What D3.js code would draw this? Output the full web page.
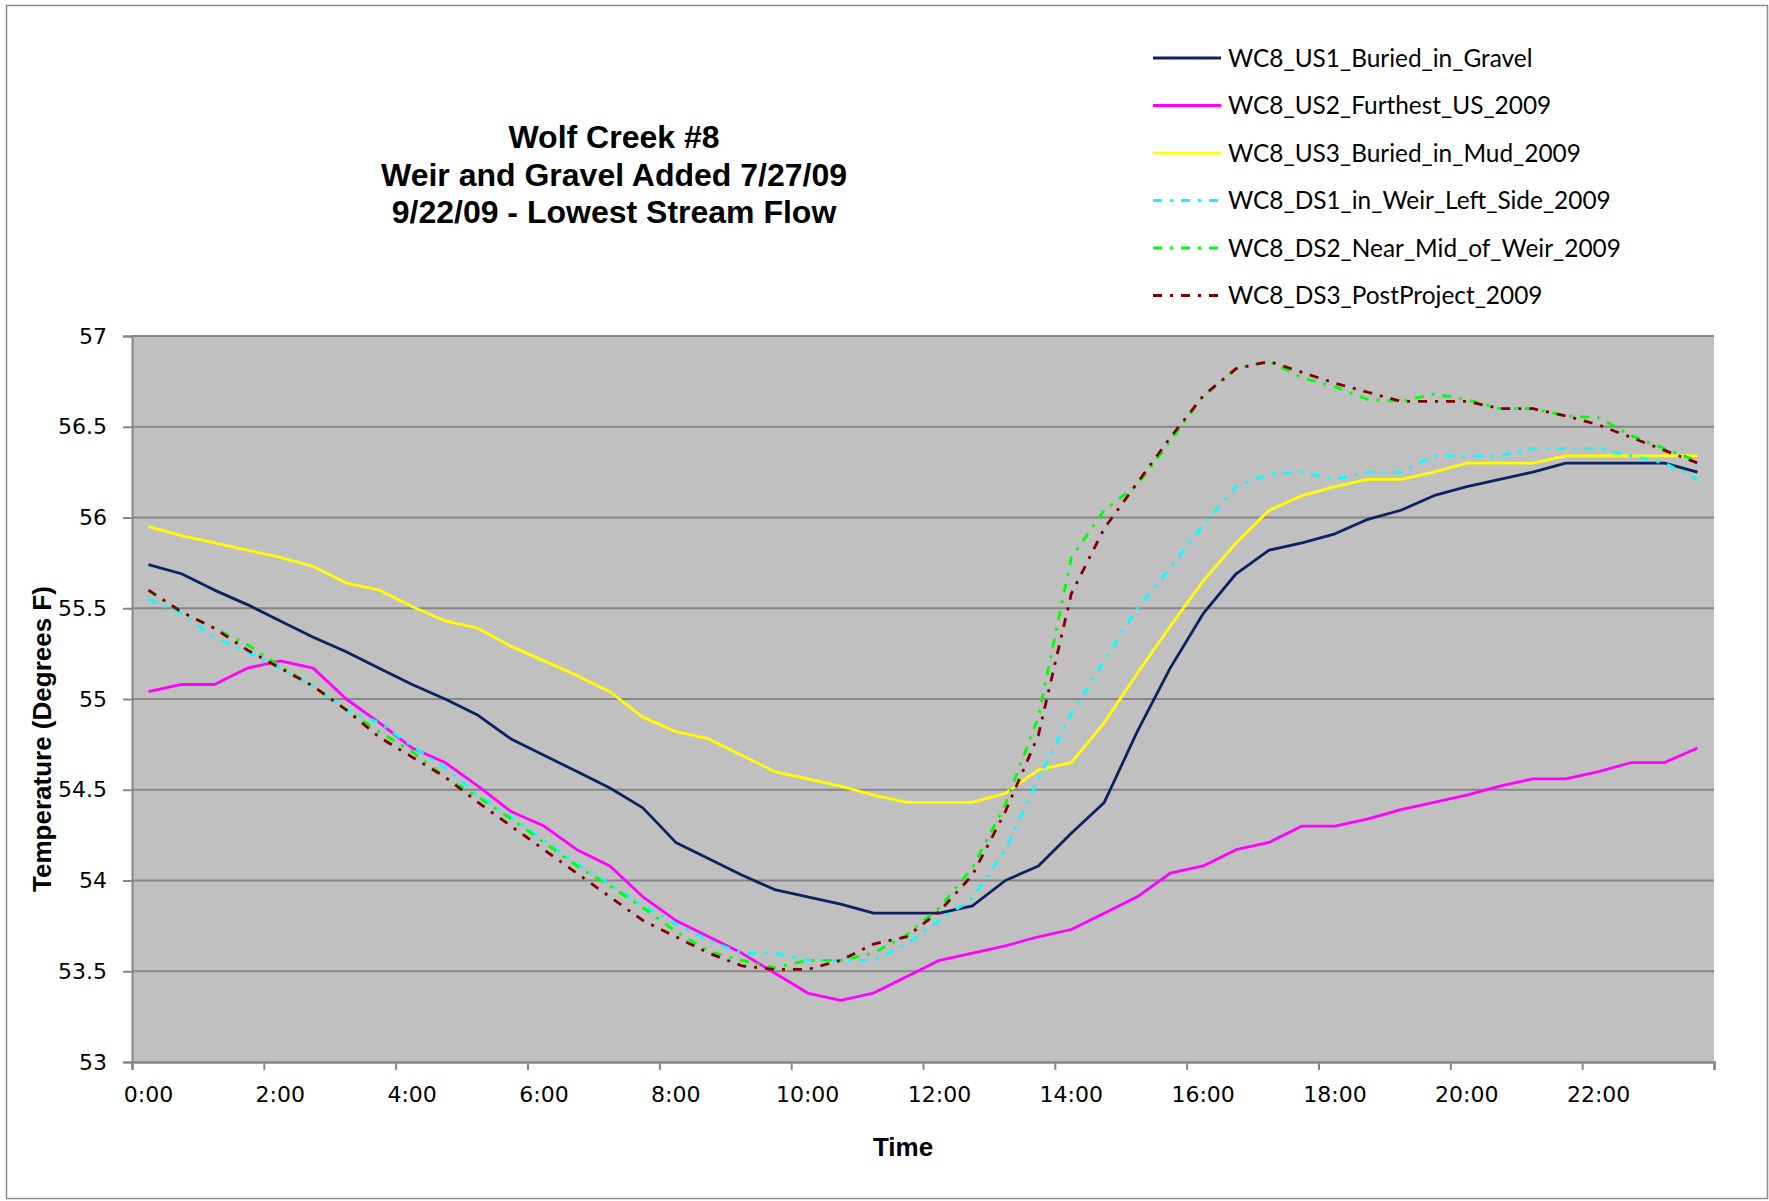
<!DOCTYPE html>
<html>
<head>
<meta charset="utf-8">
<script src="https://cdn.jsdelivr.net/npm/d3@7"></script>
<style>
  html, body { margin: 0; padding: 0; background: #ffffff; }
  svg { display: block; }
</style>
</head>
<body>
<svg id="chart" width="1769" height="1201"></svg>
<script>
// Half-hourly categories for one day
const times = [
  "0:00","0:30","1:00","1:30","2:00","2:30","3:00","3:30","4:00","4:30","5:00","5:30",
  "6:00","6:30","7:00","7:30","8:00","8:30","9:00","9:30","10:00","10:30","11:00","11:30",
  "12:00","12:30","13:00","13:30","14:00","14:30","15:00","15:30","16:00","16:30","17:00","17:30",
  "18:00","18:30","19:00","19:30","20:00","20:30","21:00","21:30","22:00","22:30","23:00","23:30"
];

// Axis tick labels
const xTickLabels = ["0:00","2:00","4:00","6:00","8:00","10:00","12:00","14:00","16:00","18:00","20:00","22:00"];
const yTickValues = [53, 53.5, 54, 54.5, 55, 55.5, 56, 56.5, 57];

// Series names
const seriesNames = [
  "WC8_US1_Buried_in_Gravel",
  "WC8_US2_Furthest_US_2009",
  "WC8_US3_Buried_in_Mud_2009",
  "WC8_DS1_in_Weir_Left_Side_2009",
  "WC8_DS2_Near_Mid_of_Weir_2009",
  "WC8_DS3_PostProject_2009"
];

// Temperatures (degrees F), one value per half hour
const us1 = [55.74,55.69,55.60,55.52,55.43,55.34,55.26,55.17,55.08,55.00,54.91,54.78,
             54.69,54.60,54.51,54.40,54.21,54.12,54.03,53.95,53.91,53.87,53.82,53.82,
             53.82,53.86,54.00,54.08,54.26,54.43,54.82,55.17,55.47,55.69,55.82,55.86,
             55.91,55.99,56.04,56.12,56.17,56.21,56.25,56.30,56.30,56.30,56.30,56.25];
const us2 = [55.04,55.08,55.08,55.17,55.21,55.17,55.00,54.87,54.73,54.65,54.52,54.38,
             54.30,54.17,54.08,53.91,53.78,53.69,53.60,53.49,53.38,53.34,53.38,53.47,
             53.56,53.60,53.64,53.69,53.73,53.82,53.91,54.04,54.08,54.17,54.21,54.30,
             54.30,54.34,54.39,54.43,54.47,54.52,54.56,54.56,54.60,54.65,54.65,54.73];
const us3 = [55.95,55.90,55.86,55.82,55.78,55.73,55.64,55.60,55.51,55.43,55.39,55.29,
             55.21,55.13,55.04,54.90,54.82,54.78,54.69,54.60,54.56,54.52,54.47,54.43,
             54.43,54.43,54.48,54.61,54.65,54.87,55.14,55.40,55.65,55.86,56.04,56.12,
             56.17,56.21,56.21,56.25,56.30,56.30,56.30,56.34,56.34,56.34,56.34,56.34];
const ds1 = [55.55,55.47,55.34,55.26,55.17,55.07,54.94,54.87,54.74,54.62,54.47,54.35,
             54.22,54.09,53.98,53.86,53.76,53.67,53.60,53.60,53.56,53.56,53.56,53.65,
             53.78,53.90,54.17,54.56,54.92,55.21,55.50,55.72,55.96,56.17,56.24,56.25,
             56.21,56.25,56.25,56.34,56.34,56.34,56.38,56.38,56.38,56.34,56.30,56.21];
const ds2 = [55.60,55.48,55.39,55.30,55.18,55.07,54.94,54.82,54.71,54.57,54.46,54.34,
             54.21,54.08,53.97,53.85,53.72,53.61,53.56,53.52,53.56,53.56,53.60,53.70,
             53.85,54.07,54.42,54.90,55.78,56.04,56.18,56.42,56.67,56.82,56.86,56.77,
             56.72,56.65,56.64,56.68,56.65,56.60,56.60,56.56,56.55,56.45,56.38,56.31];
const ds3 = [55.60,55.48,55.39,55.27,55.17,55.07,54.94,54.79,54.68,54.57,54.43,54.30,
             54.17,54.04,53.91,53.78,53.69,53.60,53.53,53.51,53.51,53.56,53.65,53.69,
             53.83,54.03,54.38,54.80,55.58,55.94,56.19,56.44,56.67,56.82,56.86,56.80,
             56.74,56.69,56.64,56.64,56.64,56.60,56.60,56.56,56.51,56.44,56.37,56.30];

const seriesValues = [us1, us2, us3, ds1, ds2, ds3];
const seriesColors = ["#0D2160", "#FF00FF", "#FFFF00", "#00FFFF", "#00FF00", "#800000"];
const dashDot = "9,8,3,8";
const seriesDash = [null, null, null, dashDot, dashDot, dashDot];

// Layout
const W = 1769, H = 1201;
const plot = { left: 132, right: 1714, top: 336, bottom: 1062 };
const gridColor = "#868686";

const svg = d3.select("#chart");

// Outer chart frame
svg.append("rect")
  .attr("x", 6.5).attr("y", 5.5)
  .attr("width", 1761).attr("height", 1193)
  .attr("fill", "#ffffff")
  .attr("stroke", "#8c8c8c").attr("stroke-width", 1.5);

// Scales
const x = d3.scaleBand().domain(times).range([plot.left, plot.right]).paddingInner(0).paddingOuter(0);
const xIdx = d3.scaleLinear().domain([0, times.length]).range([plot.left, plot.right]);
const y = d3.scaleLinear().domain([53, 57]).range([plot.bottom, plot.top]);
const cx = t => x(t) + x.bandwidth() / 2;

// Plot area
svg.append("rect")
  .attr("x", plot.left).attr("y", plot.top)
  .attr("width", plot.right - plot.left).attr("height", plot.bottom - plot.top)
  .attr("fill", "#C0C0C0");

// Horizontal gridlines
svg.append("g")
  .selectAll("line")
  .data(yTickValues.filter(v => v > 53))
  .join("line")
  .attr("x1", plot.left).attr("x2", plot.right)
  .attr("y1", d => y(d)).attr("y2", d => y(d))
  .attr("stroke", gridColor).attr("stroke-width", 2);

// Y axis
const yAxis = svg.append("g")
  .attr("transform", `translate(${plot.left},0)`)
  .call(d3.axisLeft(y).tickValues(yTickValues).tickSize(9).tickPadding(16).tickFormat(d => String(d)));
yAxis.select(".domain").attr("stroke", gridColor).attr("stroke-width", 2);
yAxis.selectAll(".tick line").attr("stroke", gridColor).attr("stroke-width", 2);
yAxis.selectAll(".tick text")
  .attr("fill", "#000").attr("font-family", "'DejaVu Sans', sans-serif").attr("font-size", 22);

// X axis: tick marks at category boundaries every 2 hours
const xTicks = svg.append("g")
  .attr("transform", `translate(0,${plot.bottom})`)
  .call(d3.axisBottom(xIdx).tickValues(d3.range(0, times.length + 1, 4)).tickSize(8).tickFormat(""));
xTicks.select(".domain").attr("stroke", gridColor).attr("stroke-width", 2.5);
xTicks.selectAll(".tick line").attr("stroke", gridColor).attr("stroke-width", 2);

// X axis labels centred on their categories
const xLabels = svg.append("g")
  .attr("transform", `translate(0,${plot.bottom})`)
  .call(d3.axisBottom(x).tickValues(xTickLabels).tickSize(0).tickPadding(24));
xLabels.select(".domain").remove();
xLabels.selectAll(".tick text")
  .attr("fill", "#000").attr("font-family", "'DejaVu Sans', sans-serif").attr("font-size", 22);

// Series lines
const line = d3.line().x((d, i) => cx(times[i])).y(d => y(d));
const linesG = svg.append("g");
seriesValues.forEach((vals, k) => {
  linesG.append("path")
    .datum(vals)
    .attr("d", line)
    .attr("fill", "none")
    .attr("stroke", seriesColors[k])
    .attr("stroke-width", 2.8)
    .attr("stroke-linejoin", "round")
    .attr("stroke-dasharray", seriesDash[k]);
});

// Title
const titleLines = ["Wolf Creek #8", "Weir and Gravel Added 7/27/09", "9/22/09 - Lowest Stream Flow"];
svg.append("g")
  .selectAll("text")
  .data(titleLines)
  .join("text")
  .attr("x", 614)
  .attr("y", (d, i) => 148 + i * 37.5)
  .attr("text-anchor", "middle")
  .attr("font-family", "'Liberation Sans', Arial, sans-serif")
  .attr("font-weight", "bold")
  .attr("font-size", 32)
  .attr("fill", "#000")
  .text(d => d);

// Axis titles
svg.append("text")
  .attr("x", 903).attr("y", 1156)
  .attr("text-anchor", "middle")
  .attr("font-family", "'Liberation Sans', Arial, sans-serif")
  .attr("font-weight", "bold").attr("font-size", 26)
  .attr("fill", "#000")
  .text("Time");

svg.append("text")
  .attr("transform", "translate(51,739) rotate(-90)")
  .attr("text-anchor", "middle")
  .attr("font-family", "'Liberation Sans', Arial, sans-serif")
  .attr("font-weight", "bold").attr("font-size", 26)
  .attr("fill", "#000")
  .text("Temperature (Degrees F)");

// Legend
const legend = svg.append("g");
const legendRows = legend.selectAll("g")
  .data(seriesNames)
  .join("g")
  .attr("transform", (d, i) => `translate(0,${58 + i * 47.5})`);
legendRows.append("line")
  .attr("x1", 1153).attr("x2", 1221)
  .attr("y1", 0).attr("y2", 0)
  .attr("stroke", (d, i) => seriesColors[i])
  .attr("stroke-width", 2.8)
  .attr("stroke-dasharray", (d, i) => seriesDash[i]);
const legendText = legendRows.append("text")
  .attr("x", 1228)
  .attr("y", 0)
  .attr("dy", "0.35em")
  .attr("font-family", "Lato, 'Open Sans', sans-serif")
  .attr("font-size", 24)
  .attr("fill", "#000")
  .text(d => d);

// Size the legend font so the longest entry spans its allotted width
const longest = d3.max(legendText.nodes(), n => n.getComputedTextLength());
legendText.attr("font-size", 24 * 393 / longest);
</script>
</body>
</html>
